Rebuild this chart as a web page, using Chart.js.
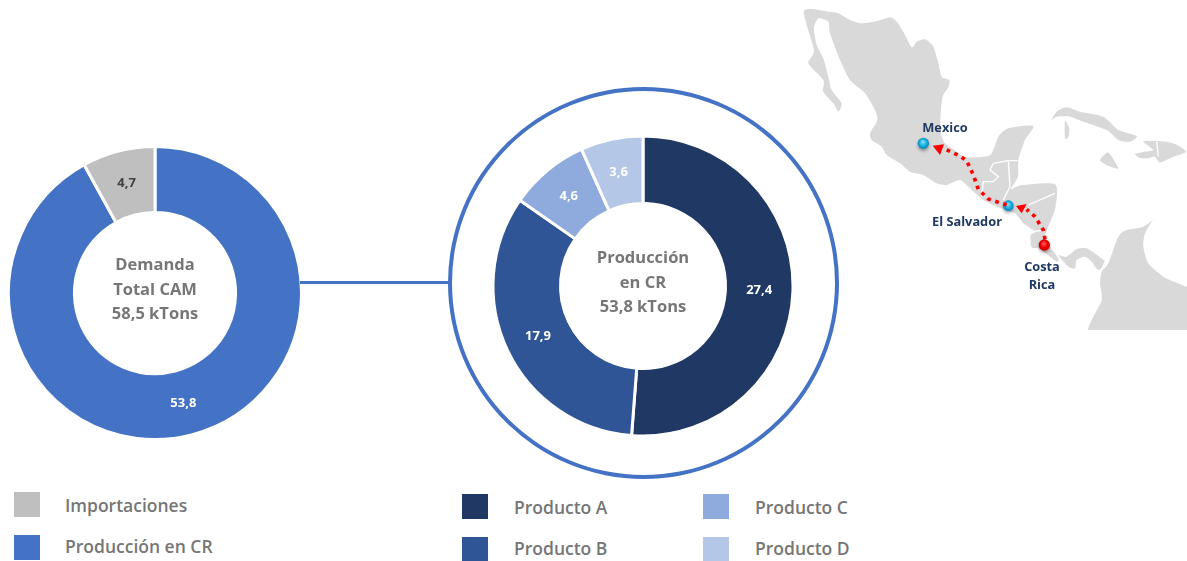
<!DOCTYPE html>
<html lang="es">
<head>
<meta charset="utf-8">
<title>Demanda y producción</title>
<script src="https://cdn.jsdelivr.net/npm/chart.js@4/dist/chart.umd.min.js"></script>
<style>
    html, body { margin: 0; width: 1187px; height: 561px; background: #fff; overflow: hidden; }
    body { position: relative; font-family: "Open Sans", sans-serif; }
    canvas { position: absolute; }
    #map { position: absolute; left: 790px; top: 0; width: 397px; height: 330px; }
    #ring { position: absolute; left: 448px; top: 87px; width: 383px; height: 384px; border: 4px solid #4472C4; border-radius: 50%; }
    #connector { position: absolute; left: 300px; top: 281px; width: 150px; height: 3px; background: #4472C4; }
    .center { position: absolute; width: 150px; text-align: center; color: #767676; font-weight: 700; font-size: 16.5px; line-height: 24.6px; }
    .swatch { position: absolute; width: 26px; height: 25px; }
    .legend-text { position: absolute; color: #767676; font-weight: 600; font-size: 17.5px; line-height: 20px; white-space: nowrap; }
    .place { position: absolute; width: 100px; text-align: center; color: #1F3864; font-weight: 700; font-size: 12.8px; line-height: 18px; }
</style>
</head>
<body>
<div id="ring"></div>
<canvas id="demandChart" width="320" height="320" style="left:-5px;top:133px"></canvas>
<canvas id="productionChart" width="320" height="320" style="left:483px;top:126px"></canvas>
<div id="connector"></div>
<div class="center" style="left:80px;top:252px">Demanda<br>Total CAM<br>58,5 kTons</div>
<div class="center" style="left:568px;top:245px">Producción<br>en CR<br>53,8 kTons</div>

<svg id="map" viewBox="0 0 1191 990"></svg>
<div class="place" style="left:895px;top:118px">Mexico</div>
<div class="place" style="left:917px;top:212px">El Salvador</div>
<div class="place" style="left:992px;top:257px">Costa<br>Rica</div>

<script>
// Datos de demanda (kTons)
const demandLabels = ['Producción en CR', 'Importaciones'];
const demandValues = [53.8, 4.7];
const demandColors = ['#4472C4', '#BFBFBF'];
const demandLabelColors = ['#ffffff', '#404040'];

// Producción por producto (kTons)
const productLabels = ['Producto A', 'Producto B', 'Producto C', 'Producto D'];
const productValues = [27.4, 17.9, 4.6, 3.6];
const productColors = ['#1F3864', '#2F5597', '#8FAADC', '#B4C7E7'];

// Contornos del mapa, en unidades del viewBox
const mapMainland = [[42,33],[115,35],[145,40],[180,60],[215,70],[265,62],[300,52],[320,65],[340,95],[365,142],[380,125],[405,118],[430,140],[445,190],[455,230],[478,240],[475,262],[458,290],[452,340],[452,395],[465,430],[500,455],[530,472],[600,465],[625,410],[655,385],[730,378],[705,420],[685,480],[684,530],[662,568],[695,556],[795,553],[797,620],[775,680],[765,710],[780,740],[805,775],[800,785],[770,762],[745,745],[725,742],[722,705],[735,695],[700,670],[675,640],[625,622],[580,600],[545,570],[510,540],[470,555],[440,550],[400,525],[360,515],[330,490],[290,465],[275,440],[245,420],[240,400],[262,360],[255,330],[225,280],[180,240],[150,180],[120,100],[115,65],[85,55],[72,85],[80,135],[100,175],[115,230],[125,270],[155,310],[145,335],[130,310],[100,275],[100,240],[55,190],[72,150]];
const mapPanama = [[805,765],[830,770],[860,748],[890,745],[945,785],[925,810],[905,785],[885,770],[860,780],[855,805],[835,800],[815,778]];
const mapCuba = [[785,360],[800,335],[830,322],[870,335],[940,350],[985,390],[1040,408],[1020,425],[985,420],[950,390],[880,365],[840,350],[800,350]];
const mapFlorida = [[825,362],[838,385],[835,412],[825,414]];
const mapHispaniola = [[1035,462],[1060,456],[1090,450],[1060,425],[1100,423],[1150,430],[1188,455],[1150,470],[1110,487],[1095,470],[1075,475],[1050,474]];
const mapJamaica = [[930,480],[955,458],[985,505],[950,495]];
const mapSouthAmerica = [[935,815],[955,790],[985,710],[1010,690],[1060,680],[1100,652],[1085,665],[1065,700],[1060,740],[1075,790],[1120,830],[1191,860],[1260,875],[1260,1090],[860,1090],[895,985],[905,960],[935,900],[930,850]];
const mapBorders = [
    [[610,490],[655,482],[682,482]],
    [[655,482],[660,560]],
    [[610,490],[600,510],[625,530],[610,545],[580,545],[575,590]],
    [[715,615],[795,580]],
    [[660,560],[640,600]],
    [[725,695],[765,690]],
    [[945,785],[930,820]],
    [[1100,425],[1105,470]]
];

// Rutas de exportación
const routeToSalvador = [[765,718],[760,690],[735,650],[710,628]];
const routeToMexico = [[650,615],[595,597],[565,568],[550,525],[530,482],[510,468],[465,447]];
const arrowToSalvador = [[678,618],[710,612],[695,640]];
const arrowToMexico = [[428,437],[462,433],[450,465]];

// Dibuja el valor de cada sector en su centro
const sliceValues = {
    id: 'sliceValues',
    afterDatasetsDraw(chart, args, opts) {
        const { ctx } = chart;
        ctx.save();
        ctx.font = '700 13px "Open Sans"';
        ctx.textAlign = 'center';
        ctx.textBaseline = 'middle';
        chart.getDatasetMeta(0).data.forEach((arc, i) => {
            const pos = arc.tooltipPosition();
            ctx.fillStyle = opts.colors[i];
            ctx.fillText(String(chart.data.datasets[0].data[i]).replace('.', ','), pos.x, pos.y);
        });
        ctx.restore();
    }
};

function makeDoughnut(id, labels, values, colors, labelColors, radius, cutout) {
    return new Chart(document.getElementById(id), {
        type: 'doughnut',
        data: {
            labels: labels,
            datasets: [{
                data: values,
                backgroundColor: colors,
                borderColor: '#ffffff',
                borderWidth: 3,
                radius: radius,
                cutout: cutout
            }]
        },
        options: {
            responsive: false,
            animation: false,
            layout: { padding: 0 },
            plugins: {
                legend: { display: false },
                tooltip: { enabled: false },
                sliceValues: { colors: labelColors }
            }
        },
        plugins: [sliceValues]
    });
}

makeDoughnut('demandChart', demandLabels, demandValues, demandColors, demandLabelColors, 146.5, '55%');
makeDoughnut('productionChart', productLabels, productValues, productColors, productColors.map(() => '#ffffff'), 150, '55%');

// Leyendas
const demandLegendSlots = [[14, 492], [14, 535]];
const productLegendSlots = [[462, 494], [462, 537], [703, 494], [703, 537]];

function addLegend(labels, colors, slots, gap) {
    labels.forEach((label, i) => {
        const [x, y] = slots[i];
        const swatch = document.createElement('div');
        swatch.className = 'swatch';
        swatch.style.cssText = `left:${x}px;top:${y}px;background:${colors[i]}`;
        document.body.appendChild(swatch);
        const text = document.createElement('div');
        text.className = 'legend-text';
        text.style.cssText = `left:${x + gap}px;top:${y + (i % 2 ? 1 : 3)}px`;
        text.textContent = label;
        document.body.appendChild(text);
    });
}
addLegend(demandLabels.slice().reverse(), demandColors.slice().reverse(), demandLegendSlots, 51);
addLegend(productLabels, productColors, productLegendSlots, 52);

// Mapa
const svg = document.getElementById('map');

// Curva cerrada que pasa por todos los puntos del contorno
function smoothPath(points) {
    const n = points.length;
    const k = 0.7 / 6;
    let d = 'M' + points[0].join(',');
    points.forEach((p1, i) => {
        const p0 = points[(i - 1 + n) % n];
        const p2 = points[(i + 1) % n];
        const p3 = points[(i + 2) % n];
        const c1 = [p1[0] + (p2[0] - p0[0]) * k, p1[1] + (p2[1] - p0[1]) * k];
        const c2 = [p2[0] - (p3[0] - p1[0]) * k, p2[1] - (p3[1] - p1[1]) * k];
        d += ' C' + c1.join(',') + ' ' + c2.join(',') + ' ' + p2.join(',');
    });
    return d + ' Z';
}

function linePath(points) {
    return 'M' + points.map(p => p.join(',')).join(' L');
}

let mapHtml = `<defs>
    <radialGradient id="blueBall" cx="50%" cy="50%" r="55%" fx="45%" fy="35%">
        <stop offset="0" stop-color="#8fe8ff"/><stop offset="0.55" stop-color="#17aee0"/><stop offset="1" stop-color="#0b7cab"/>
    </radialGradient>
    <radialGradient id="redBall" cx="50%" cy="50%" r="55%" fx="45%" fy="35%">
        <stop offset="0" stop-color="#ff6a6a"/><stop offset="0.55" stop-color="#f00000"/><stop offset="1" stop-color="#b80000"/>
    </radialGradient>
    <filter id="ballShadow" x="-50%" y="-50%" width="200%" height="200%">
        <feDropShadow dx="0" dy="6" stdDeviation="5" flood-color="#000" flood-opacity="0.35"/>
    </filter>
</defs>`;

[mapMainland, mapPanama, mapCuba, mapFlorida, mapHispaniola, mapJamaica, mapSouthAmerica].forEach(shape => {
    mapHtml += `<path d="${smoothPath(shape)}" fill="#D9D9D9"/>`;
});
mapBorders.forEach(line => {
    mapHtml += `<path d="${linePath(line)}" fill="none" stroke="#fff" stroke-width="4"/>`;
});

mapHtml += '<circle cx="400" cy="430" r="17" fill="url(#blueBall)" filter="url(#ballShadow)"/>';
mapHtml += '<circle cx="655" cy="617" r="16" fill="url(#blueBall)" filter="url(#ballShadow)"/>';

[routeToSalvador, routeToMexico].forEach(route => {
    mapHtml += `<path d="${linePath(route)}" fill="none" stroke="#FF0000" stroke-width="11" stroke-dasharray="11 14"/>`;
});
[arrowToSalvador, arrowToMexico].forEach(arrow => {
    mapHtml += `<path d="${linePath(arrow)} Z" fill="#FF0000"/>`;
});

mapHtml += '<circle cx="763" cy="735" r="17" fill="url(#redBall)" filter="url(#ballShadow)"/>';
svg.innerHTML = mapHtml;
</script>
</body>
</html>
